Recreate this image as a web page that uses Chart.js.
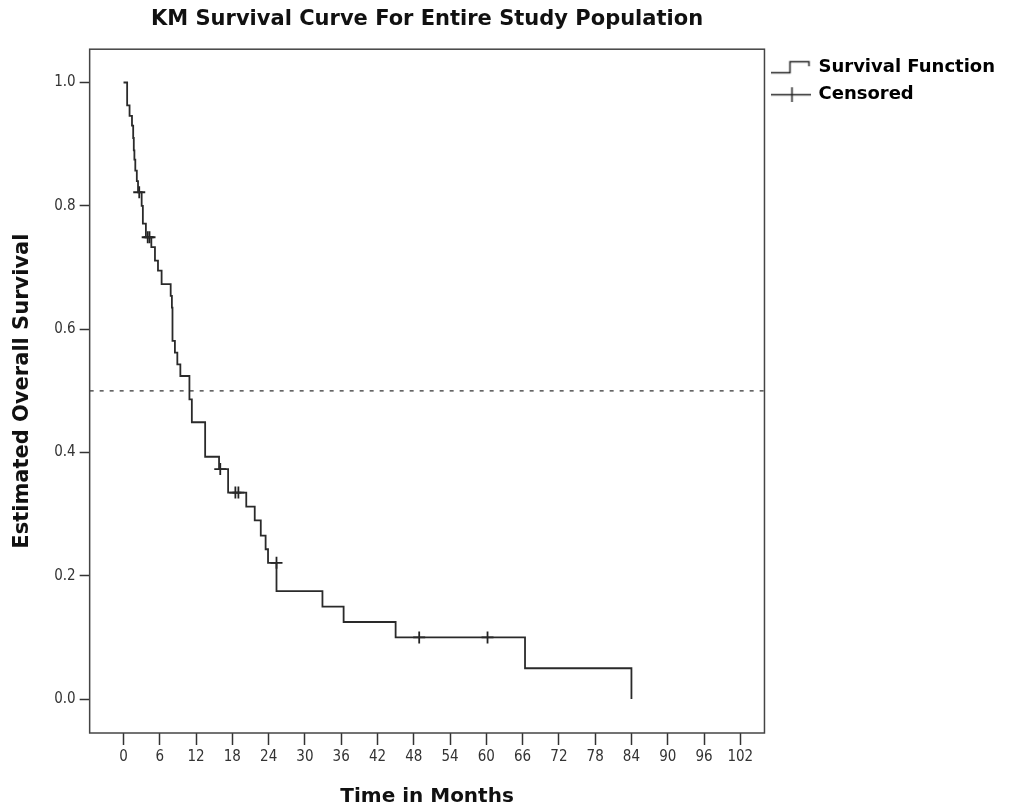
<!DOCTYPE html>
<html>
<head>
<meta charset="utf-8">
<title>KM Survival Curve</title>
<script src="https://cdn.jsdelivr.net/npm/chart.js@4.4.1/dist/chart.umd.min.js"></script>
<style>
  html, body { margin: 0; padding: 0; background: #fff; }
  #wrap { width: 1015px; height: 812px; }
</style>
</head>
<body>
<div id="wrap"><canvas id="myChart"></canvas></div>
<script>
// Kaplan-Meier steps: time in months and estimated survival after each event
var survTimes  = [0, 0.6, 1.0, 1.4, 1.6, 1.7, 1.8, 1.95, 2.2, 2.4, 3.0, 3.2, 3.7, 4.6, 5.2, 5.7, 6.3, 7.8, 8.0, 8.1, 8.5, 8.9, 9.4, 10.9, 11.3, 13.5, 15.8, 17.3, 20.3, 21.7, 22.7, 23.5, 23.9, 25.3, 32.9, 36.4, 45.0, 66.4, 84.0];
var survValues = [1.0, 0.963, 0.946, 0.93, 0.91, 0.89, 0.875, 0.857, 0.84, 0.822, 0.80, 0.771, 0.749, 0.733, 0.711, 0.695, 0.673, 0.654, 0.635, 0.581, 0.562, 0.543, 0.524, 0.486, 0.449, 0.393, 0.373, 0.335, 0.312, 0.29, 0.265, 0.243, 0.221, 0.175, 0.15, 0.125, 0.10, 0.05, 0.0];

// censored observations
var censorTimes  = [2.6, 4.0, 4.3, 16.0, 18.5, 19.0, 25.3, 48.9, 60.2];
var censorValues = [0.822, 0.749, 0.749, 0.373, 0.335, 0.335, 0.221, 0.10, 0.10];

var xTicks = [0, 6, 12, 18, 24, 30, 36, 42, 48, 54, 60, 66, 72, 78, 84, 90, 96, 102];
var yTicks = [0.0, 0.2, 0.4, 0.6, 0.8, 1.0];
var xRange = [-5.6, 106.0];
var yRange = [-0.055, 1.054];
var medianLevel = 0.5;

var survData = survTimes.map(function (t, i) { return { x: t, y: survValues[i] }; });
var censorData = censorTimes.map(function (t, i) { return { x: t, y: censorValues[i] }; });
var medianData = xRange.map(function (t) { return { x: t, y: medianLevel }; });

// little legend icons
function makeIcon(draw) {
  var c = document.createElement('canvas');
  c.width = 40; c.height = 16;
  var g = c.getContext('2d');
  g.strokeStyle = '#222';
  g.lineWidth = 1.5;
  draw(g);
  return c;
}
var stepIcon = makeIcon(function (g) {
  g.beginPath();
  g.moveTo(0, 13.5); g.lineTo(18.5, 13.5); g.lineTo(18.5, 2.5); g.lineTo(37.5, 2.5); g.lineTo(37.5, 7);
  g.stroke();
});
var crossIcon = makeIcon(function (g) {
  g.beginPath();
  g.moveTo(0, 8.5); g.lineTo(40, 8.5);
  g.moveTo(20.5, 1); g.lineTo(20.5, 16);
  g.stroke();
});

var framePlugin = {
  id: 'frame',
  afterDatasetsDraw: function (chart) {
    var a = chart.chartArea, c = chart.ctx;
    c.save();
    c.strokeStyle = '#444';
    c.lineWidth = 1.5;
    c.strokeRect(a.left, a.top, a.right - a.left, a.bottom - a.top);
    c.restore();
  }
};

var tickFont = { family: '"Liberation Sans Narrow", "DejaVu Sans Condensed", "Liberation Sans", sans-serif', size: 15 };
function bold(size) { return { family: '"DejaVu Sans", sans-serif', size: size, weight: 'bold' }; }

var ctx = document.getElementById('myChart').getContext('2d');

var myChart = new Chart(ctx, {
  type: 'line',
  data: {
    datasets: [
      {
        label: 'Survival Function',
        data: survData,
        stepped: 'before',
        borderColor: '#2a2a2a',
        borderWidth: 1.8,
        pointRadius: 0,
        fill: false
      },
      {
        label: 'Censored',
        data: censorData,
        showLine: false,
        pointStyle: 'cross',
        pointRadius: 6,
        pointBorderWidth: 1.8,
        pointBorderColor: '#222',
        pointBackgroundColor: '#222'
      },
      {
        label: 'median',
        data: medianData,
        borderColor: '#333',
        borderWidth: 1.2,
        borderDash: [4, 6],
        pointRadius: 0,
        fill: false
      }
    ]
  },
  options: {
    responsive: true,
    maintainAspectRatio: false,
    animation: false,
    layout: { padding: { top: 0, left: 6, right: 10, bottom: 0 } },
    plugins: {
      title: {
        display: true,
        fullSize: false,
        text: 'KM Survival Curve For Entire Study Population',
        color: '#111',
        font: bold(21),
        padding: { top: 7, bottom: 17 }
      },
      legend: {
        position: 'right',
        align: 'start',
        fullSize: false,
        labels: {
          usePointStyle: true,
          pointStyleWidth: 36,
          padding: 9,
          color: '#111',
          font: bold(18),
          generateLabels: function () {
            return [
              { text: 'Survival Function', pointStyle: stepIcon, datasetIndex: 0, lineWidth: 0, hidden: false },
              { text: 'Censored', pointStyle: crossIcon, datasetIndex: 1, lineWidth: 0, hidden: false }
            ];
          }
        }
      },
      tooltip: { enabled: false }
    },
    scales: {
      x: {
        type: 'linear',
        min: xRange[0],
        max: xRange[1],
        afterBuildTicks: function (axis) { axis.ticks = xTicks.map(function (v) { return { value: v }; }); },
        ticks: { color: '#333', font: tickFont, padding: 3, maxRotation: 0, callback: function (v) { return String(v); } },
        grid: { drawOnChartArea: false, tickLength: 12, tickColor: '#333', tickWidth: 1.5 },
        border: { display: false },
        title: { display: true, text: 'Time in Months', color: '#111', font: bold(20), padding: { top: 16, bottom: 3 } }
      },
      y: {
        type: 'linear',
        min: yRange[0],
        max: yRange[1],
        afterBuildTicks: function (axis) { axis.ticks = yTicks.map(function (v) { return { value: v }; }); },
        ticks: { color: '#333', font: tickFont, padding: 4, callback: function (v) { return v.toFixed(1); } },
        grid: { drawOnChartArea: false, tickLength: 10, tickColor: '#333', tickWidth: 1.5 },
        border: { display: false },
        title: { display: true, text: 'Estimated Overall Survival', color: '#111', font: bold(21), padding: { top: 4, bottom: 15 } }
      }
    }
  },
  plugins: [framePlugin]
});
</script>
</body>
</html>
